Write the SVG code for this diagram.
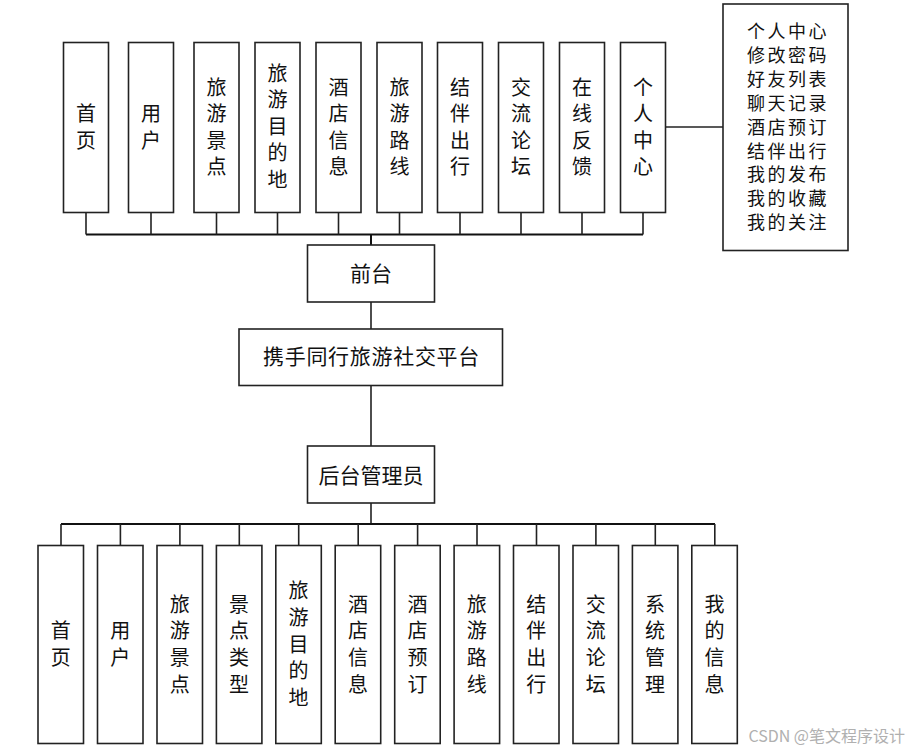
<svg xmlns="http://www.w3.org/2000/svg" width="909" height="751" viewBox="0 0 909 751">
<style>
.box{fill:#fff;stroke:#222;stroke-width:1.6}
.ln{fill:none;stroke:#222;stroke-width:1.6}
.bus{fill:none;stroke:#111;stroke-width:2}
text{font-family:"Noto Sans CJK SC","Liberation Sans",sans-serif;fill:#111}
.v{font-size:20px;text-anchor:middle}
.h{font-size:21px;text-anchor:middle}
.lst{font-size:18px;letter-spacing:2.5px}
.wm{font-size:16px;fill:#b0b0b0;text-anchor:end}
</style>
<rect width="909" height="751" fill="#fff"/>
<g id="connectors">
<path class="bus" d="M86 234.5H643"/>
<path class="ln" d="M86 212V234.5M151 212V234.5M216.5 212V234.5M277.5 212V234.5M338.5 212V234.5M399.5 212V234.5M460 212V234.5M521 212V234.5M582 212V234.5M643 212V234.5"/>
<path class="ln" d="M666 127H723"/>
<path class="bus" d="M371 234.5V245"/>
<path class="ln" d="M371 302V329M371 385V446M371 503V524"/>
<path class="bus" d="M61 524H715"/>
<path class="ln" d="M61 524V545M120.4 524V545M179.9 524V545M239.3 524V545M298.7 524V545M358.2 524V545M417.6 524V545M477 524V545M536.5 524V545M595.9 524V545M655.3 524V545M714.8 524V545"/>
</g>
<g id="top-nodes">
<g id="t1"><rect class="box" x="63.5" y="42.5" width="45" height="170"/><text class="v" x="86" y="121.2"><tspan x="86">首</tspan><tspan x="86" dy="26.6">页</tspan></text></g>
<g id="t2"><rect class="box" x="128.5" y="42.5" width="45" height="170"/><text class="v" x="151" y="121.2"><tspan x="151">用</tspan><tspan x="151" dy="26.6">户</tspan></text></g>
<g id="t3"><rect class="box" x="194" y="42.5" width="45" height="170"/><text class="v" x="216.5" y="94.5"><tspan x="216.5">旅</tspan><tspan x="216.5" dy="26.5">游</tspan><tspan x="216.5" dy="26.5">景</tspan><tspan x="216.5" dy="26.5">点</tspan></text></g>
<g id="t4"><rect class="box" x="255" y="42.5" width="45" height="170"/><text class="v" x="277.5" y="80.5"><tspan x="277.5">旅</tspan><tspan x="277.5" dy="26.5">游</tspan><tspan x="277.5" dy="26.5">目</tspan><tspan x="277.5" dy="26.5">的</tspan><tspan x="277.5" dy="26.5">地</tspan></text></g>
<g id="t5"><rect class="box" x="316" y="42.5" width="45" height="170"/><text class="v" x="338.5" y="94.5"><tspan x="338.5">酒</tspan><tspan x="338.5" dy="26.5">店</tspan><tspan x="338.5" dy="26.5">信</tspan><tspan x="338.5" dy="26.5">息</tspan></text></g>
<g id="t6"><rect class="box" x="377" y="42.5" width="45" height="170"/><text class="v" x="399.5" y="94.5"><tspan x="399.5">旅</tspan><tspan x="399.5" dy="26.5">游</tspan><tspan x="399.5" dy="26.5">路</tspan><tspan x="399.5" dy="26.5">线</tspan></text></g>
<g id="t7"><rect class="box" x="437.5" y="42.5" width="45" height="170"/><text class="v" x="460" y="94.5"><tspan x="460">结</tspan><tspan x="460" dy="26.5">伴</tspan><tspan x="460" dy="26.5">出</tspan><tspan x="460" dy="26.5">行</tspan></text></g>
<g id="t8"><rect class="box" x="498.5" y="42.5" width="45" height="170"/><text class="v" x="521" y="94.5"><tspan x="521">交</tspan><tspan x="521" dy="26.5">流</tspan><tspan x="521" dy="26.5">论</tspan><tspan x="521" dy="26.5">坛</tspan></text></g>
<g id="t9"><rect class="box" x="559.5" y="42.5" width="45" height="170"/><text class="v" x="582" y="94.5"><tspan x="582">在</tspan><tspan x="582" dy="26.5">线</tspan><tspan x="582" dy="26.5">反</tspan><tspan x="582" dy="26.5">馈</tspan></text></g>
<g id="t10"><rect class="box" x="620.5" y="42.5" width="45" height="170"/><text class="v" x="643" y="94.5"><tspan x="643">个</tspan><tspan x="643" dy="26.5">人</tspan><tspan x="643" dy="26.5">中</tspan><tspan x="643" dy="26.5">心</tspan></text></g>
</g>
<g id="personal-detail"><rect class="box" x="723" y="4" width="125" height="246.5"/>
<text class="lst" x="747"><tspan x="747" y="38">个人中心</tspan><tspan x="747" y="61.9">修改密码</tspan><tspan x="747" y="85.8">好友列表</tspan><tspan x="747" y="109.7">聊天记录</tspan><tspan x="747" y="133.6">酒店预订</tspan><tspan x="747" y="157.5">结伴出行</tspan><tspan x="747" y="181.4">我的发布</tspan><tspan x="747" y="205.3">我的收藏</tspan><tspan x="747" y="229.2">我的关注</tspan></text></g>
<g id="front"><rect class="box" x="307.5" y="245" width="127" height="57"/><text class="h" x="371" y="280.5">前台</text></g>
<g id="platform"><rect class="box" x="239" y="329" width="263.5" height="56.5"/><text class="h" x="371.5" y="364" letter-spacing="0.7">携手同行旅游社交平台</text></g>
<g id="admin"><rect class="box" x="307.5" y="446" width="127" height="57"/><text class="h" x="371" y="483">后台管理员</text></g>
<g id="bottom-nodes">
<g id="b1"><rect class="box" x="38" y="545.5" width="45.5" height="198"/><text class="v" x="60.8" y="638.2"><tspan x="60.8">首</tspan><tspan x="60.8" dy="26.8">页</tspan></text></g>
<g id="b2"><rect class="box" x="97.5" y="545.5" width="45.5" height="198"/><text class="v" x="120.2" y="638.2"><tspan x="120.2">用</tspan><tspan x="120.2" dy="26.8">户</tspan></text></g>
<g id="b3"><rect class="box" x="157" y="545.5" width="45.5" height="198"/><text class="v" x="179.7" y="611.5"><tspan x="179.7">旅</tspan><tspan x="179.7" dy="26.8">游</tspan><tspan x="179.7" dy="26.8">景</tspan><tspan x="179.7" dy="26.8">点</tspan></text></g>
<g id="b4"><rect class="box" x="216.4" y="545.5" width="45.5" height="198"/><text class="v" x="239.1" y="611.5"><tspan x="239.1">景</tspan><tspan x="239.1" dy="26.8">点</tspan><tspan x="239.1" dy="26.8">类</tspan><tspan x="239.1" dy="26.8">型</tspan></text></g>
<g id="b5"><rect class="box" x="275.8" y="545.5" width="45.5" height="198"/><text class="v" x="298.5" y="598"><tspan x="298.5">旅</tspan><tspan x="298.5" dy="26.8">游</tspan><tspan x="298.5" dy="26.8">目</tspan><tspan x="298.5" dy="26.8">的</tspan><tspan x="298.5" dy="26.8">地</tspan></text></g>
<g id="b6"><rect class="box" x="335.2" y="545.5" width="45.5" height="198"/><text class="v" x="358" y="611.5"><tspan x="358">酒</tspan><tspan x="358" dy="26.8">店</tspan><tspan x="358" dy="26.8">信</tspan><tspan x="358" dy="26.8">息</tspan></text></g>
<g id="b7"><rect class="box" x="394.7" y="545.5" width="45.5" height="198"/><text class="v" x="417.4" y="611.5"><tspan x="417.4">酒</tspan><tspan x="417.4" dy="26.8">店</tspan><tspan x="417.4" dy="26.8">预</tspan><tspan x="417.4" dy="26.8">订</tspan></text></g>
<g id="b8"><rect class="box" x="454.1" y="545.5" width="45.5" height="198"/><text class="v" x="476.8" y="611.5"><tspan x="476.8">旅</tspan><tspan x="476.8" dy="26.8">游</tspan><tspan x="476.8" dy="26.8">路</tspan><tspan x="476.8" dy="26.8">线</tspan></text></g>
<g id="b9"><rect class="box" x="513.5" y="545.5" width="45.5" height="198"/><text class="v" x="536.3" y="611.5"><tspan x="536.3">结</tspan><tspan x="536.3" dy="26.8">伴</tspan><tspan x="536.3" dy="26.8">出</tspan><tspan x="536.3" dy="26.8">行</tspan></text></g>
<g id="b10"><rect class="box" x="573" y="545.5" width="45.5" height="198"/><text class="v" x="595.7" y="611.5"><tspan x="595.7">交</tspan><tspan x="595.7" dy="26.8">流</tspan><tspan x="595.7" dy="26.8">论</tspan><tspan x="595.7" dy="26.8">坛</tspan></text></g>
<g id="b11"><rect class="box" x="632.4" y="545.5" width="45.5" height="198"/><text class="v" x="655.1" y="611.5"><tspan x="655.1">系</tspan><tspan x="655.1" dy="26.8">统</tspan><tspan x="655.1" dy="26.8">管</tspan><tspan x="655.1" dy="26.8">理</tspan></text></g>
<g id="b12"><rect class="box" x="691.8" y="545.5" width="45.5" height="198"/><text class="v" x="714.6" y="611.5"><tspan x="714.6">我</tspan><tspan x="714.6" dy="26.8">的</tspan><tspan x="714.6" dy="26.8">信</tspan><tspan x="714.6" dy="26.8">息</tspan></text></g>
</g>
<text class="wm" x="905" y="742">CSDN @笔文程序设计</text>
</svg>
